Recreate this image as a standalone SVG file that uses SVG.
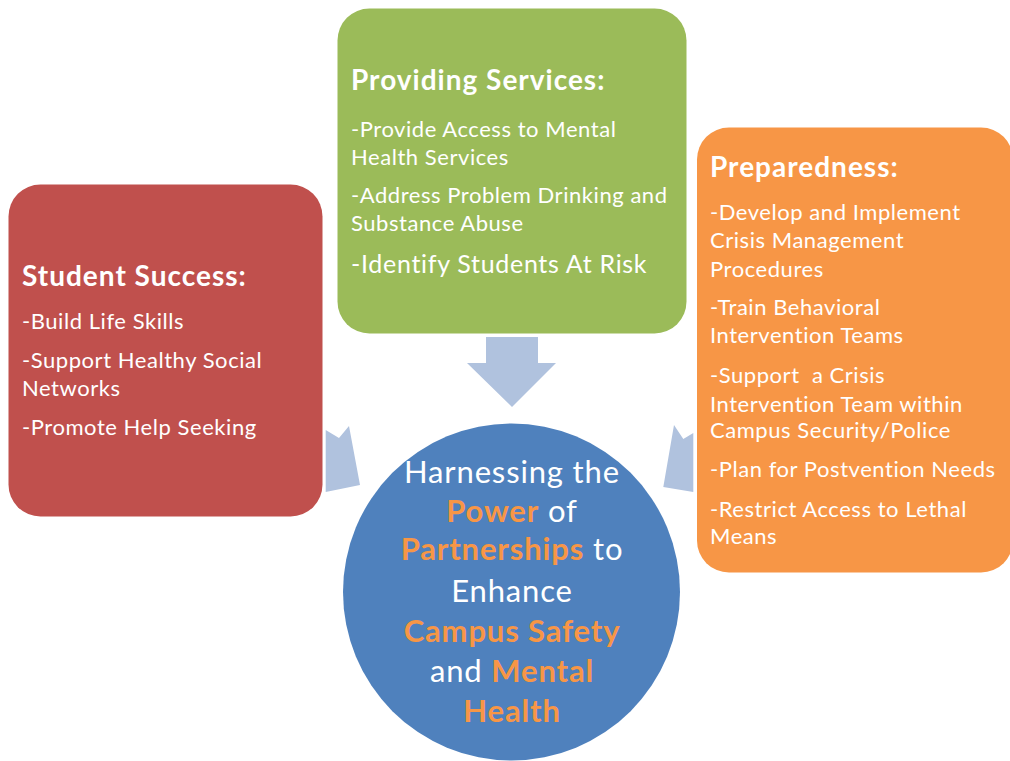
<svg xmlns="http://www.w3.org/2000/svg" width="1010" height="761" viewBox="0 0 1010 761">
<style>
.t{font-family:Lato,"Liberation Sans",sans-serif;fill:#fff;font-size:22px;letter-spacing:0.55px}
.h{font-family:Lato,"Liberation Sans",sans-serif;fill:#fff;font-size:28px;font-weight:bold;letter-spacing:1px}
.c{font-family:Lato,"Liberation Sans",sans-serif;fill:#fff;font-size:31px;text-anchor:middle;letter-spacing:0.85px}
.o{fill:#F79646;font-weight:bold}
.arr{fill:#B0C2DE}
</style>
<rect width="1010" height="761" fill="#fff"/>
<g id="connectors">
<polygon class="arr" points="486,337 538,337 538,363 556,363 512,407 467,363 486,363"/>
<polygon class="arr" points="325.7,430 339,438 349,426 360,485 325.7,492"/>
<polygon class="arr" points="674,425 683.3,439 693.3,433 693.3,492 663.3,487"/>
</g>
<g id="student-success">
<rect x="8.5" y="184.5" width="314" height="332" rx="32" fill="#C0504D"/>
<text class="h" x="22" y="286">Student Success:</text>
<text class="t" x="22" y="329">-Build Life Skills</text>
<text class="t" x="22" y="368">-Support Healthy Social</text>
<text class="t" x="22" y="396">Networks</text>
<text class="t" x="22" y="435">-Promote Help Seeking</text>
</g>
<g id="providing-services">
<rect x="337.5" y="8.5" width="349" height="325" rx="32" fill="#9BBB59"/>
<text class="h" x="351" y="90">Providing Services:</text>
<text class="t" x="351" y="137">-Provide Access to Mental</text>
<text class="t" x="351" y="165">Health Services</text>
<text class="t" x="351" y="203">-Address Problem Drinking and</text>
<text class="t" x="351" y="231">Substance Abuse</text>
<text class="t" x="351" y="273" style="font-size:25px;letter-spacing:0.7px">-Identify Students At Risk</text>
</g>
<g id="preparedness">
<rect x="697" y="127.5" width="316" height="445" rx="32" fill="#F79646"/>
<text class="h" x="710" y="177">Preparedness:</text>
<text class="t" x="710" y="220">-Develop and Implement</text>
<text class="t" x="710" y="248">Crisis Management</text>
<text class="t" x="710" y="277">Procedures</text>
<text class="t" x="710" y="315">-Train Behavioral</text>
<text class="t" x="710" y="343">Intervention Teams</text>
<text class="t" x="710" y="383" xml:space="preserve">-Support  a Crisis</text>
<text class="t" x="710" y="412">Intervention Team within</text>
<text class="t" x="710" y="438">Campus Security/Police</text>
<text class="t" x="710" y="477">-Plan for Postvention Needs</text>
<text class="t" x="710" y="517">-Restrict Access to Lethal</text>
<text class="t" x="710" y="544">Means</text>
</g>
<g id="center">
<circle cx="511.5" cy="592" r="168.5" fill="#4F81BD"/>
<text class="c" x="512" y="483">Harnessing the</text>
<text class="c" x="512" y="522"><tspan class="o">Power</tspan> of</text>
<text class="c" x="512" y="560"><tspan class="o">Partnerships</tspan> to</text>
<text class="c" x="512" y="602">Enhance</text>
<text class="c" x="512" y="642"><tspan class="o">Campus Safety</tspan></text>
<text class="c" x="512" y="682">and <tspan class="o">Mental</tspan></text>
<text class="c" x="512" y="722"><tspan class="o">Health</tspan></text>
</g>
</svg>
